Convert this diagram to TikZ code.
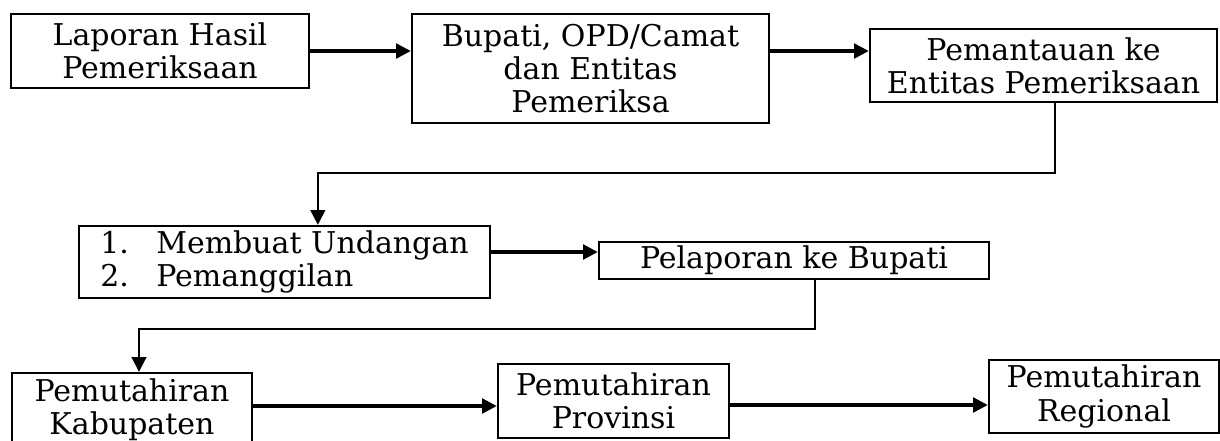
\documentclass[tikz,border=0pt]{standalone}
\usepackage{fontspec}
\setmainfont{DejaVu Serif}
\usetikzlibrary{arrows.meta}

\tikzset{
box/.style={rectangle, draw=black, line width=1.8pt, inner sep=0pt,
align=center, font=\fontsize{22.5}{25}\selectfont},
sz/.style 2 args={minimum width=#1*0.75pt, minimum height=#2*0.75pt},
arr/.style={line width=2.3pt, -{Triangle[length=11pt,width=11pt]}},
link/.style={line width=1.5pt, -{Triangle[length=11pt,width=11pt]}},
}

\begin{document}
\begin{tikzpicture}[x=0.75pt, y=-0.75pt]
% 1px = 0.75pt, y goes down
\clip (0,0) rectangle (1220,440);
\node[box, sz={298}{74}] (lhp) at (160,51) {Laporan Hasil\\Pemeriksaan};
\node[box, sz={357}{109}] (bupati) at (590.5,68.5) {Bupati, OPD/Camat\\dan Entitas\\Pemeriksa};
\node[box, sz={347}{73}] (pemantauan) at (1043.5,65.5) {Pemantauan ke\\Entitas Pemeriksaan};
\node[box, sz={411}{72}, align=left] (undangan) at (284.5,262)
	{\makebox[42pt][l]{1.}Membuat Undangan\\\makebox[42pt][l]{2.}Pemanggilan};
\node[box, sz={390}{37}] (pelaporan) at (794,260.5) {Pelaporan ke Bupati};
\node[box, sz={240}{74}] (kabupaten) at (132,410) {Pemutahiran\\Kabupaten};
\node[box, sz={231}{74}] (provinsi) at (613.5,401) {Pemutahiran\\Provinsi};
\node[box, sz={230}{73}] (regional) at (1104,396.5) {Pemutahiran\\Regional};

\draw[arr] (lhp.east) -- (bupati.west |- lhp.east);
\draw[arr] (bupati.east |- lhp.east) -- (pemantauan.west |- lhp.east);
\draw[link] ([xshift=8.6pt]pemantauan.south) -- ++(0,70) -| ([xshift=25pt]undangan.north);

\coordinate (a3) at ([yshift=7.5pt]undangan.east);
\draw[arr] (a3) -- (a3 -| pelaporan.west);
\draw[link] ([xshift=15.75pt]pelaporan.south) -- ++(0,49) -| ([xshift=5.25pt]kabupaten.north);

\coordinate (a4) at ([yshift=3pt]kabupaten.east);
\draw[arr] (a4) -- (a4 -| provinsi.west);
\coordinate (a5) at ([yshift=-3pt]provinsi.east);
\draw[arr] (a5) -- (a5 -| regional.west);
\end{tikzpicture}
\end{document}
